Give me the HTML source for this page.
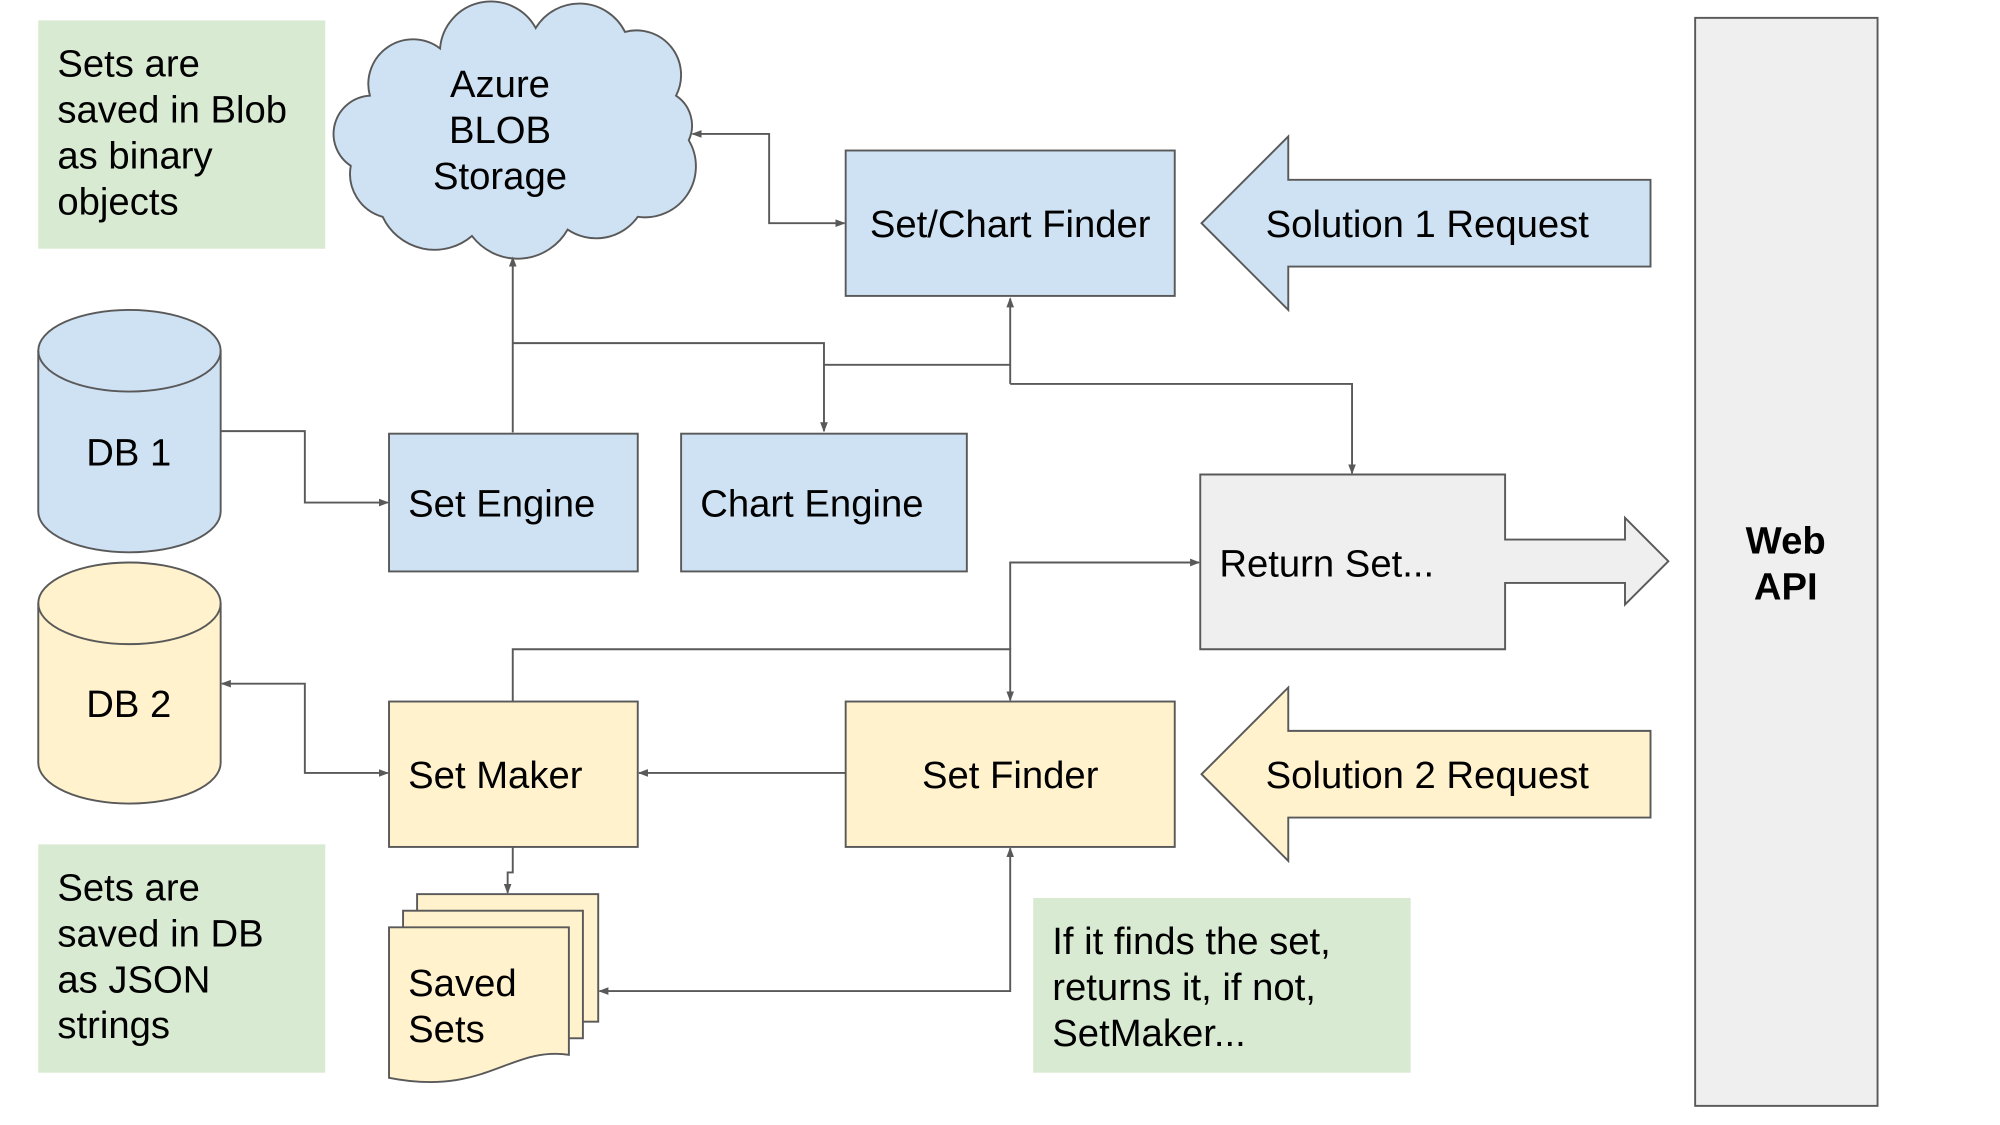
<!DOCTYPE html>
<html><head><meta charset="utf-8"><style>html,body{margin:0;padding:0;background:#fff}svg{display:block}</style></head><body>
<svg width="2000" height="1125" viewBox="0 0 1568 882" preserveAspectRatio="none" xmlns="http://www.w3.org/2000/svg" font-family="Liberation Sans, Arial, sans-serif" font-size="30" fill="#000">
<defs><marker id="a" markerWidth="8" markerHeight="8" refX="7" refY="4" orient="auto-start-reverse" markerUnits="userSpaceOnUse"><path d="M0,1 L8,4 L0,7 Z" fill="#595959"/></marker></defs>
<rect width="1568" height="882" fill="#fff"/>
<rect x="30" y="16" width="225" height="179" fill="#d9ead3"/>
<text x="45" y="60">Sets are</text><text x="45" y="96">saved in Blob</text><text x="45" y="132">as binary</text><text x="45" y="168">objects</text>
<rect x="30" y="662" width="225" height="179" fill="#d9ead3"/>
<text x="45" y="706">Sets are</text><text x="45" y="742">saved in DB</text><text x="45" y="778">as JSON</text><text x="45" y="814">strings</text>
<rect x="810" y="704" width="296" height="137" fill="#d9ead3"/>
<text x="825" y="748">If it finds the set,</text><text x="825" y="784">returns it, if not,</text><text x="825" y="820">SetMaker...</text>
<path d="M290,75 A35,35 0 0 1 345,38 A40,40 0 0 1 420,22 A40,40 0 0 1 490,25 A35,35 0 0 1 530,75 A28,28 0 0 1 540,110 A40,40 0 0 1 500,170 A40,40 0 0 1 445,180 A45,45 0 0 1 370,185 A45,45 0 0 1 300,170 A35,35 0 0 1 275,130 A30,30 0 0 1 290,75 Z" fill="#cfe2f3" stroke="#595959" stroke-width="1.5"/>
<text x="392" y="76" text-anchor="middle">Azure</text><text x="392" y="112" text-anchor="middle">BLOB</text><text x="392" y="148" text-anchor="middle">Storage</text>
<g stroke="#595959" stroke-width="1.5">
<rect x="663" y="118" width="258" height="114" fill="#cfe2f3"/>
<rect x="305" y="340" width="195" height="108" fill="#cfe2f3"/>
<rect x="534" y="340" width="224" height="108" fill="#cfe2f3"/>
<rect x="305" y="550" width="195" height="114" fill="#fff2cc"/>
<rect x="663" y="550" width="258" height="114" fill="#fff2cc"/>
<rect x="1329" y="14" width="143" height="853" fill="#efefef"/>
<polygon points="942,175 1010,107 1010,141 1294,141 1294,209 1010,209 1010,243" fill="#cfe2f3"/>
<polygon points="942,607 1010,539 1010,573 1294,573 1294,641 1010,641 1010,675" fill="#fff2cc"/>
<polygon points="941,372 1180,372 1180,423 1274,423 1274,406 1308,440 1274,474 1274,457 1180,457 1180,509 941,509" fill="#efefef"/>
<path d="M30,275 A71.5,32 0 0 1 173,275 L173,401 A71.5,32 0 0 1 30,401 Z" fill="#cfe2f3"/>
<path d="M30,275 A71.5,32 0 0 0 173,275" fill="none"/>
<path d="M30,473 A71.5,32 0 0 1 173,473 L173,598 A71.5,32 0 0 1 30,598 Z" fill="#fff2cc"/>
<path d="M30,473 A71.5,32 0 0 0 173,473" fill="none"/>
<rect x="327" y="701" width="142" height="100" fill="#fff2cc"/>
<rect x="316" y="714" width="141" height="100" fill="#fff2cc"/>
<path d="M305,727 L446,727 L446,827 C400,820 380,860 305,845 Z" fill="#fff2cc"/>
</g>
<text x="792" y="186" text-anchor="middle">Set/Chart Finder</text>
<text x="1119" y="186" text-anchor="middle">Solution 1 Request</text>
<text x="320" y="405">Set Engine</text>
<text x="549" y="405">Chart Engine</text>
<text x="956" y="452">Return Set...</text>
<text x="320" y="618">Set Maker</text>
<text x="792" y="618" text-anchor="middle">Set Finder</text>
<text x="1119" y="618" text-anchor="middle">Solution 2 Request</text>
<text x="320" y="781">Saved</text><text x="320" y="817">Sets</text>
<text x="101" y="365" text-anchor="middle">DB 1</text>
<text x="101" y="562" text-anchor="middle">DB 2</text>
<text x="1400" y="434" text-anchor="middle" font-weight="bold">Web</text>
<text x="1400" y="470" text-anchor="middle" font-weight="bold">API</text>
<g stroke="#595959" stroke-width="1.5" fill="none">
<path d="M543,105 L603,105 L603,175 L662,175" marker-start="url(#a)" marker-end="url(#a)"/>
<path d="M402,339 L402,202" marker-end="url(#a)"/>
<path d="M402,269 L646,269 L646,338" marker-end="url(#a)"/>
<path d="M646,286 L792,286"/>
<path d="M792,301 L792,234" marker-end="url(#a)"/>
<path d="M792,301 L1060,301 L1060,371" marker-end="url(#a)"/>
<path d="M173,338 L239,338 L239,394 L304,394" marker-end="url(#a)"/>
<path d="M174,536 L239,536 L239,606 L304,606" marker-start="url(#a)" marker-end="url(#a)"/>
<path d="M663,606 L501,606" marker-end="url(#a)"/>
<path d="M402,550 L402,509 L792,509 L792,549" marker-end="url(#a)"/>
<path d="M792,509 L792,441 L940,441" marker-end="url(#a)"/>
<path d="M402,664 L402,684 L398,684 L398,700" marker-end="url(#a)"/>
<path d="M470,777 L792,777 L792,665" marker-start="url(#a)" marker-end="url(#a)"/>
</g>
</svg>
</body></html>
